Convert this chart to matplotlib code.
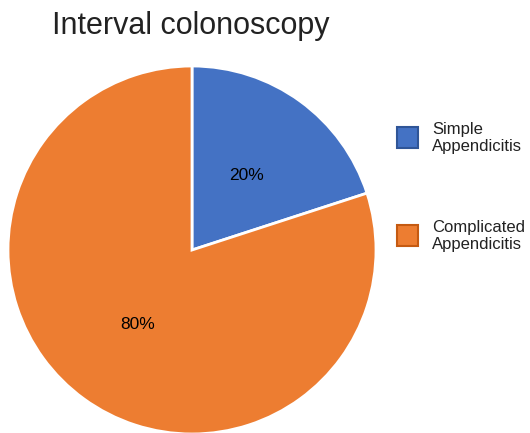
import matplotlib.pyplot as plt
from matplotlib.patches import Rectangle

plt.rcParams['font.family'] = ['Liberation Sans', 'DejaVu Sans']

labels = ["Simple\nAppendicitis", "Complicated\nAppendicitis"]
values = [20, 80]
colors = ["#4472C4", "#ED7D31"]
edges = ["#2F5597", "#C55A11"]

W, H = 530, 433
fig = plt.figure(figsize=(W / 100, H / 100), dpi=100)

# pie centre ~(192, 250) px from top-left, radius ~184 px
cx, cy, r = 192, 250, 184
ax = fig.add_axes([(cx - r) / W, (H - cy - r) / H, 2 * r / W, 2 * r / H])
ax.pie(values, colors=colors, startangle=90, counterclock=False,
       autopct="%d%%", pctdistance=0.5, radius=1,
       wedgeprops=dict(edgecolor="white", linewidth=2),
       textprops=dict(fontsize=12.5, color="black"))
ax.set_xlim(-1, 1)
ax.set_ylim(-1, 1)
ax.set_axis_off()

fig.text(52 / W, 1 - 26 / H, "Interval colonoscopy", fontsize=22,
         va="center", ha="left", color="#222222")

# legend drawn by hand: swatch + two-line label
for i, (lab, c, e) in enumerate(zip(labels, colors, edges)):
    top = 127 + i * 98
    fig.add_artist(Rectangle((397 / W, 1 - (top + 21) / H), 21 / W, 21 / H,
                             transform=fig.transFigure, facecolor=c,
                             edgecolor=e, linewidth=1.5))
    fig.text(432 / W, 1 - (top + 11) / H, lab, fontsize=12, va="center",
             ha="left", linespacing=1.15, color="#222222")

fig.savefig("out.png", dpi=100)
